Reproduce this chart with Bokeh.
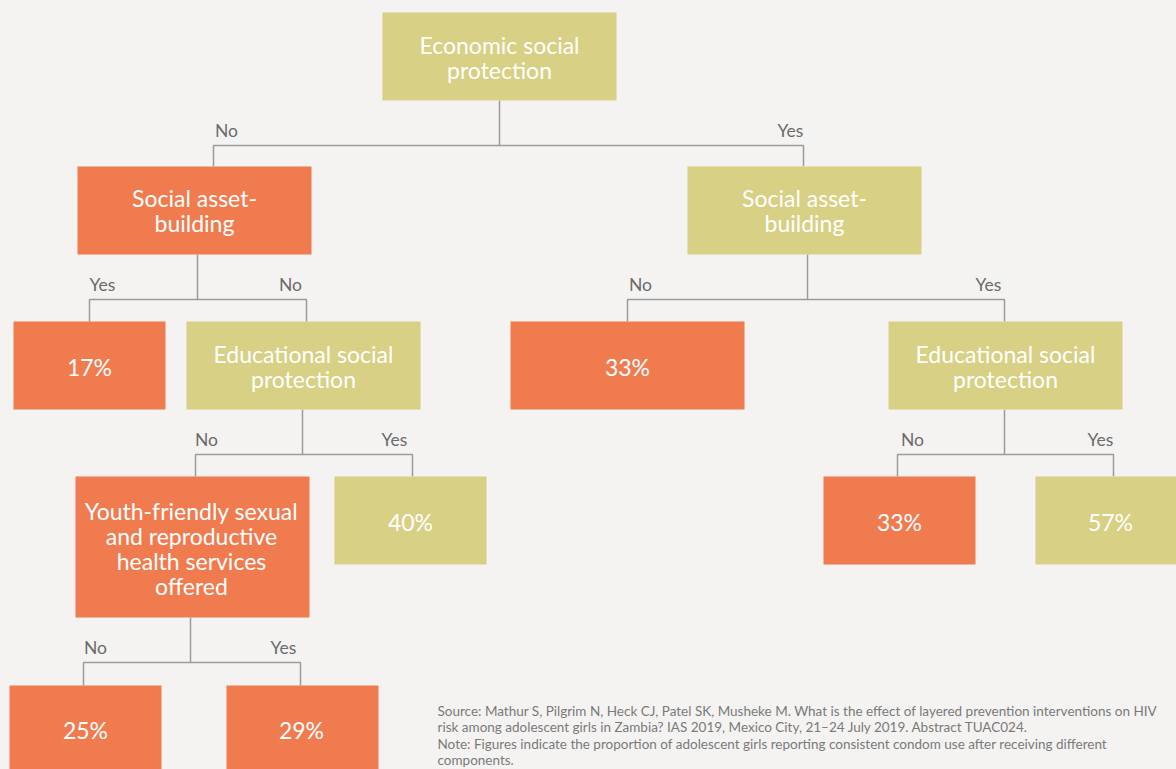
from bokeh.plotting import figure
from bokeh.models import Range1d, ColumnDataSource
from bokeh.core.properties import value
from bokeh.embed import file_html
from bokeh.resources import INLINE

# ---- data ----
node_labels = [
    "Economic social\nprotection",
    "Social asset-\nbuilding",
    "Social asset-\nbuilding",
    "17%",
    "Educational social\nprotection",
    "33%",
    "Educational social\nprotection",
    "Youth-friendly sexual\nand reproductive\nhealth services\noffered",
    "40%",
    "33%",
    "57%",
    "25%",
    "29%",
]
node_kind = ["econ", "neg", "econ", "neg", "econ", "neg", "econ", "neg", "econ", "neg", "econ", "neg", "neg"]
branch_left_labels = ["No", "Yes", "No", "No", "No", "No"]
branch_right_labels = ["Yes", "No", "Yes", "Yes", "Yes", "Yes"]
note_lines = [
    "Source: Mathur S, Pilgrim N, Heck CJ, Patel SK, Musheke M. What is the effect of layered prevention interventions on HIV",
    "risk among adolescent girls in Zambia? IAS 2019, Mexico City, 21\u201324 July 2019. Abstract TUAC024.",
    "Note: Figures indicate the proportion of adolescent girls reporting consistent condom use after receiving different",
    "components.",
]

# ---- layout (page pixel coordinates) ----
box_left = [382, 77, 687, 13, 186, 510, 888, 75, 334, 823, 1035, 9, 226]
box_top = [12, 166, 166, 321, 321, 321, 321, 476, 476, 476, 476, 685, 685]
box_right = [616, 311, 921, 165, 420, 744, 1122, 309, 486, 975, 1187, 161, 378]
box_bottom = [100, 254, 254, 409, 409, 409, 409, 617, 564, 564, 564, 800, 800]
text_x = [499, 194, 804, 89, 303, 627, 1005, 191, 410, 899, 1110, 85, 301]
text_y = [57, 210, 210, 366, 366, 366, 366, 548, 521, 521, 521, 729, 729]

# branch: stem x, stem top, bar y, left x, right x, child top
br_stem = [499, 197, 807, 302, 1004, 190]
br_top = [100, 254, 254, 409, 409, 617]
br_bar = [145, 299, 299, 454, 454, 662]
br_l = [213, 89, 627, 195, 897, 83]
br_r = [803, 306, 1004, 412, 1113, 300]
br_child = [166, 321, 321, 476, 476, 685]
lbl_lx = [226, 102, 640, 206, 912, 95]
lbl_rx = [790, 290, 988, 394, 1100, 283]

colors = {"econ": "#D8D084", "neg": "#EF7B4F"}
BG = "#F4F3F1"
LINE = "#9B9B9B"
FONT = "Lato"

p = figure(width=1176, height=769, output_backend="svg", toolbar_location=None,
           x_range=Range1d(0, 1176), y_range=Range1d(769, 0),
           min_border=0, background_fill_color=BG, border_fill_color=BG)
p.axis.visible = False
p.grid.visible = False
p.outline_line_color = None

# connectors
xs, ys = [], []
for i in range(len(br_stem)):
    xs.append([br_stem[i], br_stem[i]]); ys.append([br_top[i], br_bar[i]])
    xs.append([br_l[i], br_l[i], br_r[i], br_r[i]])
    ys.append([br_child[i], br_bar[i], br_bar[i], br_child[i]])
p.multi_line(xs, ys, line_color=LINE, line_width=1.5)

# boxes
src = ColumnDataSource(dict(
    left=box_left, right=box_right, top=box_top, bottom=box_bottom,
    color=[colors[k] for k in node_kind], label=node_labels, tx=text_x, ty=text_y))
p.quad(left="left", right="right", top="top", bottom="bottom", fill_color="color",
       line_color=None, source=src)
p.text(x="tx", y="ty", text="label", source=src, text_color="white",
       text_font=value(FONT), text_font_size="23px", text_align="center",
       text_baseline="middle", text_line_height=0.9)

# branch labels
p.text(x=lbl_lx, y=[b - 15 for b in br_bar], text=branch_left_labels, text_color="#6B6B6B",
       text_font=value(FONT), text_font_size="17.5px", text_align="center", text_baseline="middle")
p.text(x=lbl_rx, y=[b - 15 for b in br_bar], text=branch_right_labels, text_color="#6B6B6B",
       text_font=value(FONT), text_font_size="17.5px", text_align="center", text_baseline="middle")

# source note
p.text(x=[437] * len(note_lines), y=[710 + 16.5 * i for i in range(len(note_lines))], text=note_lines,
       text_color="#7A7A7A", text_font=value(FONT), text_font_size="13.5px",
       text_align="left", text_baseline="middle")

template = """{% block postamble %}<style>html, body { background: #F4F3F1; }</style>{% endblock %}"""

open("out.html", "w").write(file_html(p, INLINE, template=template))
